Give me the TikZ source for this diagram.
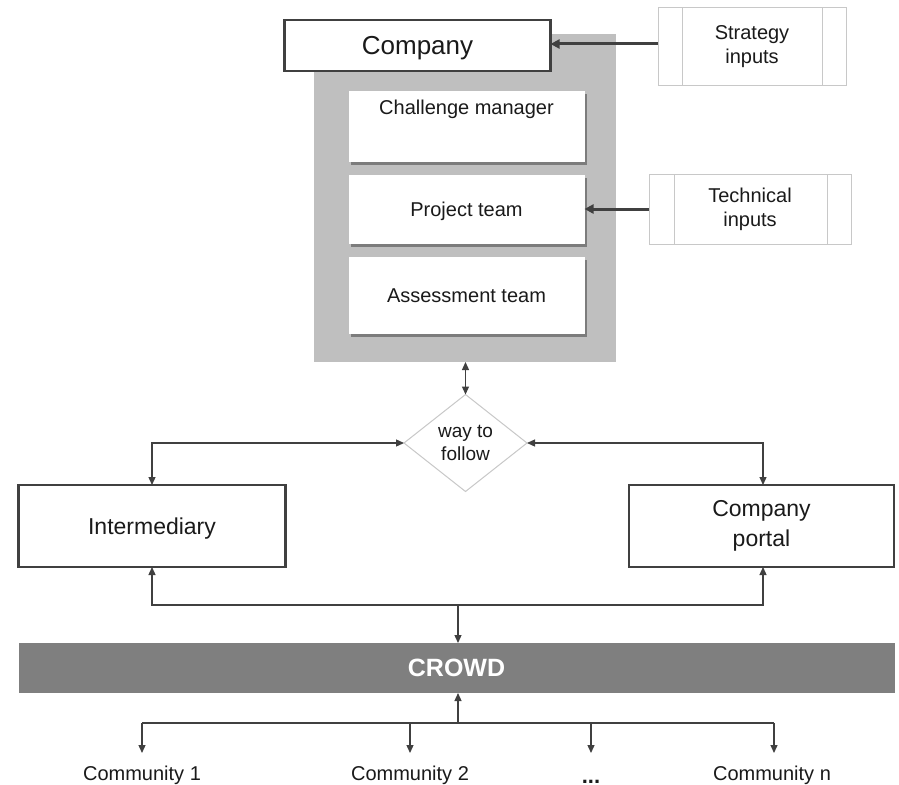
\documentclass[tikz,border=0pt]{standalone}
\usepackage{fontspec}
\setmainfont{Liberation Sans}
\usetikzlibrary{arrows.meta,shapes.geometric,shadows}
\definecolor{panelgray}{HTML}{BFBFBF}
\definecolor{crowdgray}{HTML}{7F7F7F}
\definecolor{linecol}{HTML}{404040}
\definecolor{lightborder}{HTML}{C8C8C8}
\definecolor{txt}{HTML}{1A1A1A}
\tikzset{
  every node/.style={text=txt, inner sep=0pt, outer sep=0pt},
  thickbox/.style={draw=linecol, line width=2.4pt, fill=white, rectangle},
  whitebox/.style={fill=white, rectangle, drop shadow={shadow xshift=2.5pt, shadow yshift=-2.5pt, fill=black, opacity=0.35}},
  inbox/.style={draw=lightborder, line width=1pt, fill=white, rectangle, align=center, font=\fontsize{20}{24}\selectfont},
  conn/.style={draw=linecol, line width=1.3pt},
  tip/.style={-{Triangle[length=8pt,width=7pt]}},
  tips/.style={{Triangle[length=8pt,width=7pt]}-{Triangle[length=8pt,width=7pt]}},
  bigarr/.style={draw=linecol, line width=3pt, -{Triangle[length=9pt,width=9pt]}},
  commtext/.style={anchor=base, font=\fontsize{20}{24}\selectfont},
}
\begin{document}
\begin{tikzpicture}[x=1pt,y=-1pt]
\useasboundingbox (0,0) rectangle (899,784);
\fill[white] (0,0) rectangle (899,784);
% gray panel
\node[fill=panelgray, minimum width=302pt, minimum height=328pt] (panel) at (465,198) {};
% company
\node[thickbox, minimum width=266pt, minimum height=51pt, text depth=0pt, font=\fontsize{26}{30}\selectfont] (company) at (417.5,45.5) {Company};
% inner white boxes
\node[whitebox, minimum width=236pt, minimum height=71pt,
  label={[name=cmtext, anchor=north, yshift=-9pt, font=\fontsize{20}{24}\selectfont]north:Challenge manager}] (cm) at (466.5,126.5) {};
\node[whitebox, minimum width=236pt, minimum height=69pt, text depth=0pt, font=\fontsize{20}{24}\selectfont] (pt) at (466.5,209.5) {Project team};
\node[whitebox, minimum width=236pt, minimum height=77pt, text depth=0pt, font=\fontsize{20}{24}\selectfont] (at) at (466.5,295.5) {Assessment team};
% input boxes
\node[inbox, minimum width=188pt, minimum height=77pt] (si) at (752,46.5) {Strategy\\inputs};
\draw[lightborder, line width=1pt] ([xshift=24pt]si.north west) -- ([xshift=24pt]si.south west);
\draw[lightborder, line width=1pt] ([xshift=-24pt]si.north east) -- ([xshift=-24pt]si.south east);
\node[inbox, minimum width=202pt, minimum height=70pt] (ti) at (750,209) {Technical\\inputs};
\draw[lightborder, line width=1pt] ([xshift=25pt]ti.north west) -- ([xshift=25pt]ti.south west);
\draw[lightborder, line width=1pt] ([xshift=-24pt]ti.north east) -- ([xshift=-24pt]ti.south east);
\draw[bigarr] (si.west |- 0,44) -- (company.east |- 0,44);
\draw[bigarr] (ti.west) -- (ti.west -| pt.east);
% diamond
\node[diamond, draw=lightborder, line width=1pt, fill=white, minimum width=123pt, minimum height=97pt, aspect=1.25, align=center, font=\fontsize{19}{23}\selectfont] (dia) at (465.5,443) {way to\\follow};
\draw[conn, tips] (panel.south -| dia.north) -- (dia.north);
% intermediary and portal
\node[thickbox, minimum width=267pt, minimum height=82pt, text depth=0pt, font=\fontsize{23}{28}\selectfont] (int) at (152,526) {Intermediary};
\node[thickbox, minimum width=265pt, minimum height=82pt, align=center, font=\fontsize{23}{30}\selectfont] (cp) at (761.5,526) {Company\\portal};
\draw[conn, tips] (int.north) |- (dia.west);
\draw[conn, tips] (cp.north -| 763,0) |- (dia.east);
% crowd
\node[fill=crowdgray, minimum width=876pt, minimum height=50pt, text=white, font=\bfseries\fontsize{25}{30}\selectfont] (crowd) at (456.5,668) {CROWD};
\coordinate (j) at (458,605);
\draw[conn, tips] (int.south) -- (int.south |- j) -- (j -| 763,0) -- (cp.south -| 763,0);
\draw[conn, tip] (j) -- (j |- crowd.north);
\coordinate (j2) at (458,723);
\draw[conn, tip] (j2) -- (j2 |- crowd.south);
% communities
\node[commtext] (c1) at (142,780) {Community 1};
\node[commtext] (c2) at (410,780) {Community 2};
\node[anchor=base, font=\bfseries\fontsize{22}{26}\selectfont] (cdots) at (591,783) {...};
\node[commtext] (cn) at (772,780) {Community n};
\coordinate (h1) at (142,723);
\coordinate (hn) at (774,723);
\draw[conn] (h1) -- (hn);
\draw[conn, tip] (h1) -- (142,753);
\draw[conn, tip] (410,723) -- (410,753);
\draw[conn, tip] (591,723) -- (591,753);
\draw[conn, tip] (hn) -- (774,753);
\end{tikzpicture}
\end{document}
